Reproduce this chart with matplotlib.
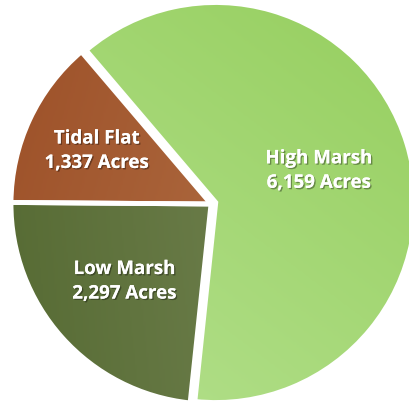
import matplotlib
matplotlib.use("Agg")
from matplotlib import pyplot as plt
from matplotlib import patheffects
from matplotlib.colors import LinearSegmentedColormap
import numpy as np

# values
names = ['High Marsh', 'Tidal Flat', 'Low Marsh']
acres = [6159, 1337, 2297]

# (dark, light) colour pairs and gradient direction (dark -> light)
dark = ['#93cd5a', '#9a4c24', '#536830']
light = ['#b8e394', '#ba7d52', '#7e8d5e']
grad_dir = [(-0.6, -0.8), (1.0, -0.3), (1.0, 0.1)]
label_r = [0.54, 0.63, 0.58]
explode = [0.025, 0, 0]

fig = plt.figure(figsize=(4.09, 4.06), dpi=100)
ax = fig.add_axes([0, 0, 1, 1])

labels = ['%s\n%s Acres' % (n, format(a, ',')) for n, a in zip(names, acres)]
wedges, _ = ax.pie(acres, startangle=-96, counterclock=True, explode=explode,
                   wedgeprops=dict(facecolor='none', edgecolor='white',
                                   linewidth=3.5, zorder=3))

# gradient fill for each slice, clipped to its wedge
xs = np.linspace(-1.2, 1.2, 300)
X, Y = np.meshgrid(xs, xs)
for w, d, l, g in zip(wedges, dark, light, grad_dir):
    t = X * g[0] + Y * g[1]
    t = (t - t.min()) / (t.max() - t.min())
    cmap = LinearSegmentedColormap.from_list('g', [d, l])
    im = ax.imshow(t, extent=(-1.2, 1.2, -1.2, 1.2), origin='lower',
                   cmap=cmap, zorder=1, interpolation='bilinear')
    im.set_clip_path(w)

shadow = [patheffects.withSimplePatchShadow(offset=(1, -1), shadow_rgbFace='black',
                                            alpha=0.35), patheffects.Normal()]
for w, lab, r in zip(wedges, labels, label_r):
    ang = np.deg2rad((w.theta1 + w.theta2) / 2)
    cx, cy = w.center
    ax.text(cx + r * np.cos(ang), cy + r * np.sin(ang), lab, ha='center',
            va='center', color='white', fontsize=13.5, fontweight='bold',
            family='Open Sans', linespacing=1.3, zorder=5, path_effects=shadow)

ax.set_xlim(-1.055, 0.99)
ax.set_ylim(-1.005, 1.025)
ax.set_aspect('equal')
ax.axis('off')

fig.savefig('out.png', dpi=100, facecolor='white')
